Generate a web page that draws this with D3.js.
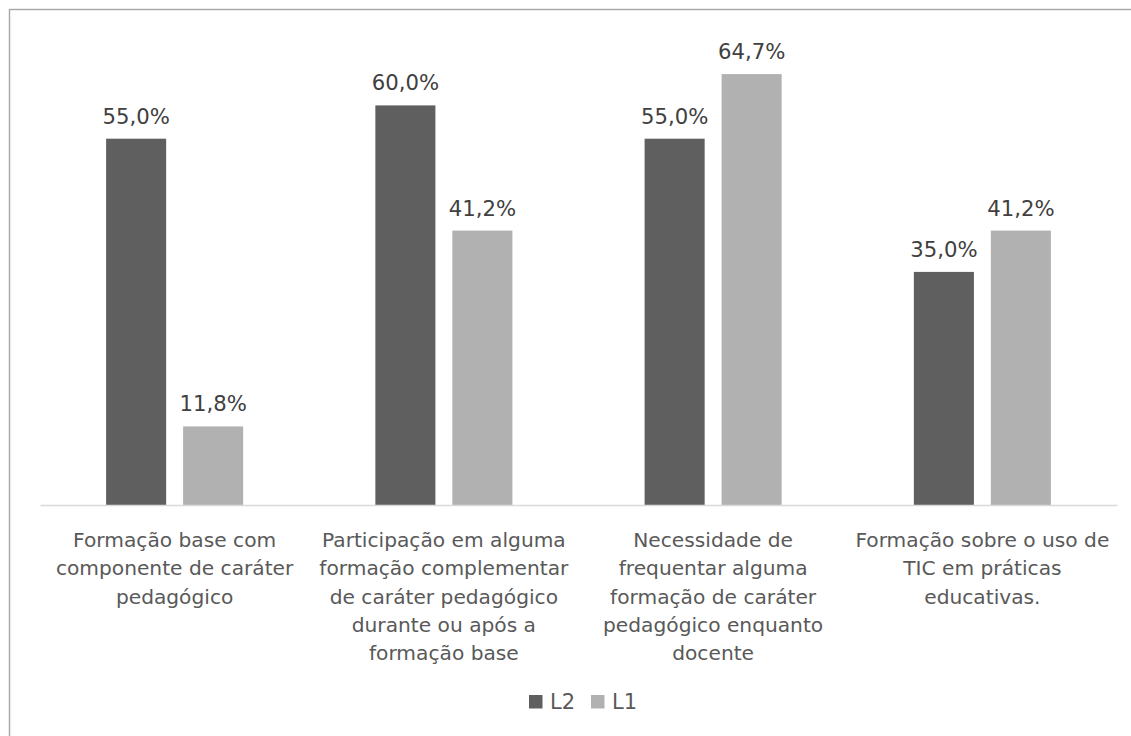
<!DOCTYPE html>
<html>
<head>
<meta charset="utf-8">
<script src="https://cdn.jsdelivr.net/npm/d3@7"></script>
<style>
  body { margin: 0; background: #fff; }
  svg { display: block; }
  text { font-family: "DejaVu Sans", Verdana, sans-serif; }
</style>
</head>
<body>
<svg id="chart" width="1131" height="736"></svg>
<script>
const categories = [
  ["Formação base com", "componente de caráter", "pedagógico"],
  ["Participação em alguma", "formação complementar", "de caráter pedagógico", "durante ou após a", "formação base"],
  ["Necessidade de", "frequentar alguma", "formação de caráter", "pedagógico enquanto", "docente"],
  ["Formação sobre o uso de", "TIC em práticas", "educativas."]
];
const seriesNames = ["L2", "L1"];
const valuesL2 = [55.0, 60.0, 55.0, 35.0];
const valuesL1 = [11.8, 41.2, 64.7, 41.2];
const colors = { L2: "#5f5f5f", L1: "#b1b1b1" };

const svg = d3.select("#chart");
const plot = { left: 40, right: 1117, top: 40, bottom: 505 };

// outer frame (clipped by the image on right/bottom)
svg.append("rect")
  .attr("x", 9.5).attr("y", 9.5)
  .attr("width", 1300).attr("height", 900)
  .attr("fill", "none").attr("stroke", "#a6a6a6").attr("stroke-width", 1.4);

const x0 = d3.scaleBand()
  .domain(d3.range(categories.length))
  .range([plot.left, plot.right])
  .paddingInner(0.491)
  .paddingOuter(0.2455);

const x1 = d3.scaleBand()
  .domain(seriesNames)
  .range([0, x0.bandwidth()])
  .paddingInner(0.22)
  .paddingOuter(0);

const y = d3.scaleLinear().domain([0, 70]).range([plot.bottom, plot.bottom - 70 * 6.66]);

const data = categories.map((c, i) => ({
  i, cat: c,
  vals: [{ s: "L2", v: valuesL2[i] }, { s: "L1", v: valuesL1[i] }]
}));

const groups = svg.append("g").selectAll("g")
  .data(data).join("g")
  .attr("transform", d => `translate(${x0(d.i)},0)`);

groups.selectAll("rect")
  .data(d => d.vals).join("rect")
  .attr("x", d => x1(d.s))
  .attr("y", d => y(d.v))
  .attr("width", x1.bandwidth())
  .attr("height", d => y(0) - y(d.v))
  .attr("fill", d => colors[d.s]);

groups.selectAll("text.val")
  .data(d => d.vals).join("text")
  .attr("class", "val")
  .attr("x", d => x1(d.s) + x1.bandwidth() / 2)
  .attr("y", d => y(d.v) - 15)
  .attr("text-anchor", "middle")
  .attr("font-size", 21.2)
  .attr("fill", "#404040")
  .text(d => d.v.toFixed(1).replace(".", ",") + "%");

// baseline axis
const xAxis = d3.axisBottom(x0).tickSize(0).tickFormat("");
const axisG = svg.append("g").attr("transform", `translate(0,${plot.bottom})`).call(xAxis);
axisG.select(".domain").attr("stroke", "#d9d9d9").attr("stroke-width", 1.3);

// category labels
const lineH = 28.3;
svg.append("g").selectAll("text")
  .data(data).join("text")
  .attr("text-anchor", "middle")
  .attr("font-size", 20.2)
  .attr("fill", "#595959")
  .each(function(d) {
    const t = d3.select(this);
    d.cat.forEach((line, k) => {
      t.append("tspan")
        .attr("x", x0(d.i) + x0.bandwidth() / 2)
        .attr("y", 547 + k * lineH)
        .text(line);
    });
  });

// legend
const legend = svg.append("g");
const legendItems = [
  { s: "L2", x: 529 },
  { s: "L1", x: 591 }
];
legendItems.forEach(it => {
  legend.append("rect")
    .attr("x", it.x).attr("y", 695)
    .attr("width", 13.5).attr("height", 13.5)
    .attr("fill", colors[it.s]);
  legend.append("text")
    .attr("x", it.x + 21).attr("y", 709)
    .attr("font-size", 21)
    .attr("fill", "#595959")
    .text(it.s);
});
</script>
</body>
</html>
